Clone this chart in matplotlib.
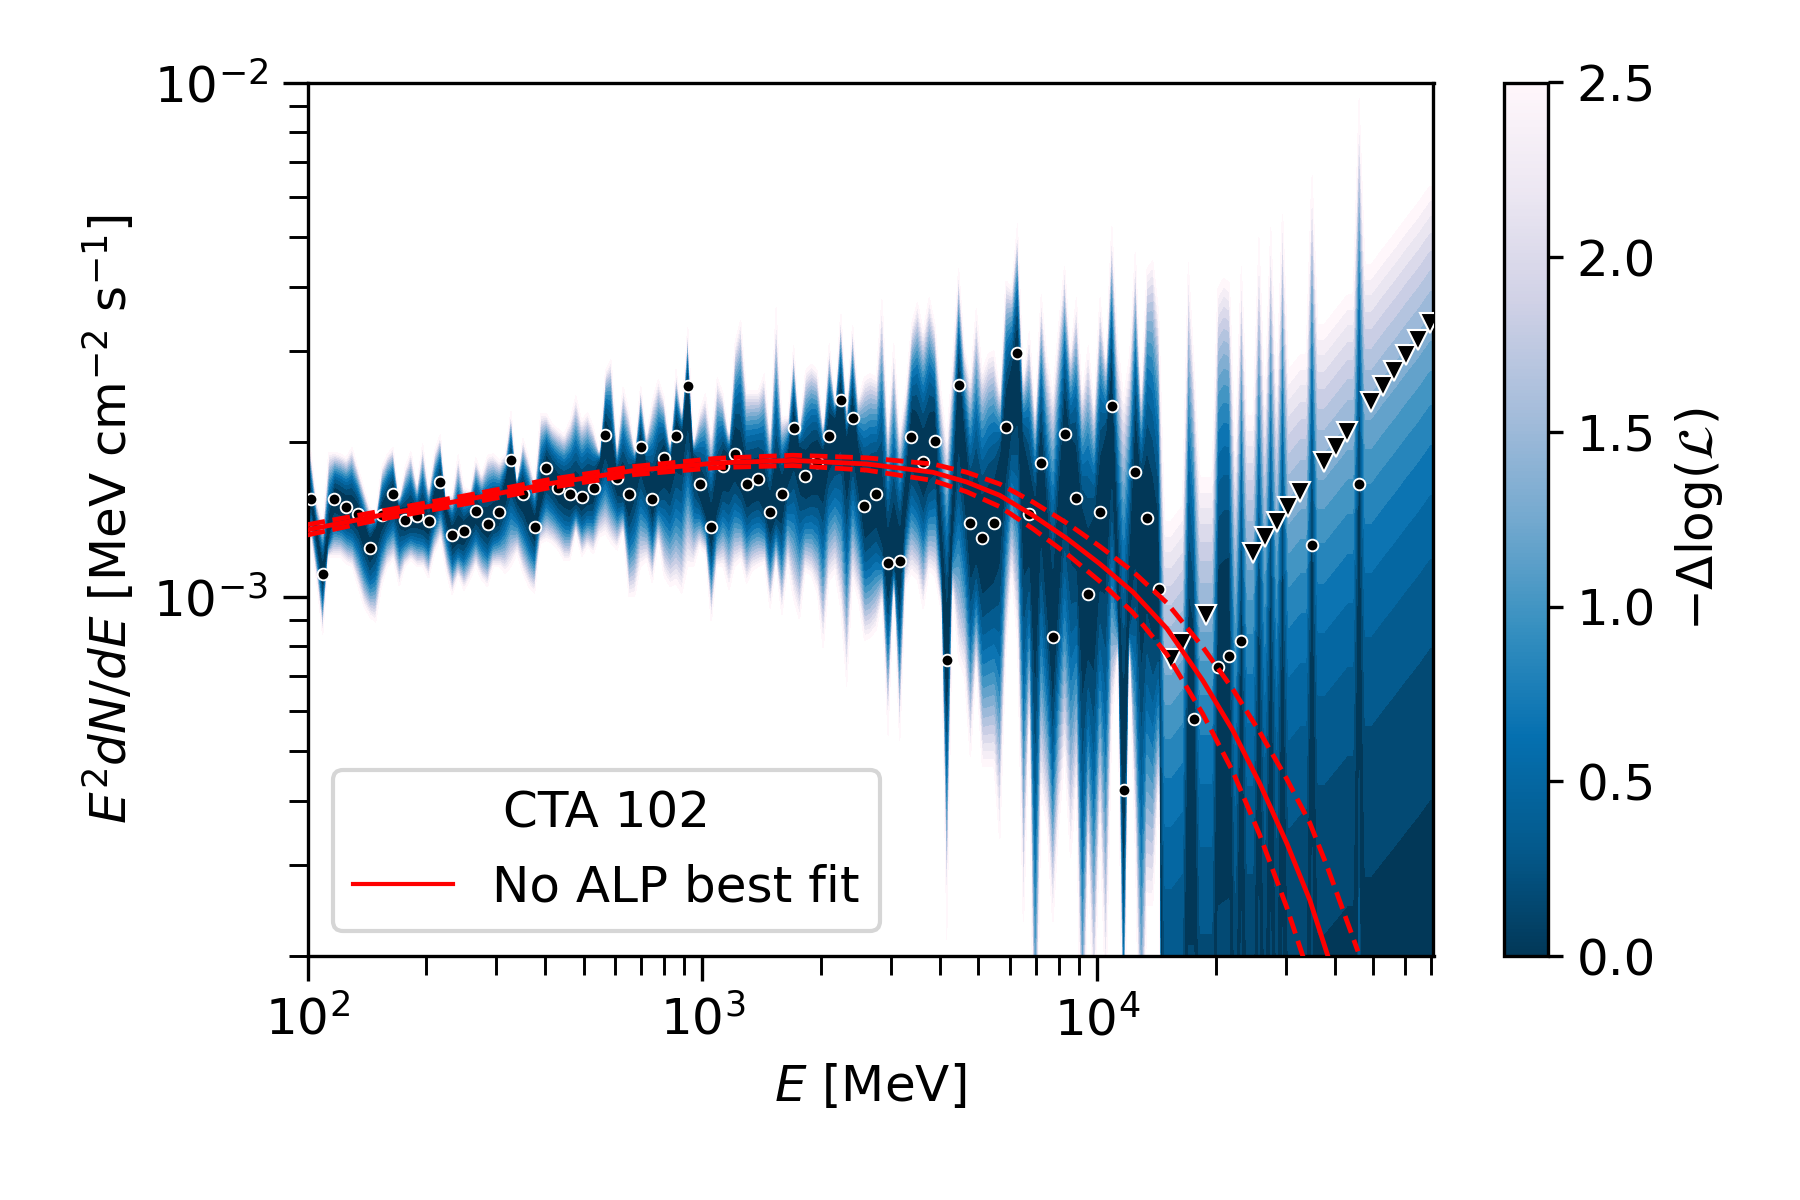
import numpy as np
import matplotlib
matplotlib.use("Agg")
import matplotlib.pyplot as plt
from matplotlib.cm import ScalarMappable
from matplotlib.colors import Normalize
from matplotlib.lines import Line2D
from matplotlib.ticker import NullFormatter

plt.rcParams['font.size'] = 12

nan = np.nan

# Energy bin centres [MeV]
energy = [102.0, 109.3, 117.0, 125.3, 134.2, 143.8, 154.0, 164.9, 176.7, 189.2, 202.7, 217.1,
          232.5, 249.0, 266.7, 285.7, 306.0, 327.7, 351.0, 376.0, 402.7, 431.3, 462.0, 494.8,
          530.0, 567.7, 608.0, 651.2, 697.5, 747.1, 800.2, 857.1, 918.0, 983.3, 1053, 1128,
          1208, 1294, 1386, 1484, 1590, 1703, 1824, 1954, 2093, 2241, 2401, 2571, 2754, 2950,
          3159, 3384, 3625, 3882, 4158, 4454, 4770, 5110, 5473, 5862, 6278, 6725, 7203, 7715,
          8263, 8851, 9480, 10150, 10880, 11650, 12480, 13360, 14310, 15330, 16420, 17590,
          18840, 20180, 21610, 23150, 24790, 26560, 28440, 30470, 32630, 34950, 37430, 40100,
          42950, 46000, 49270, 52770, 56520, 60540, 64840, 69450]

# Flux points, in units of 1e-3 MeV cm-2 s-1
flux = [1.551, 1.105, 1.551, 1.494, 1.451, 1.246, 1.444, 1.586, 1.412, 1.435, 1.401, 1.674,
        1.315, 1.340, 1.470, 1.387, 1.459, 1.847, 1.586, 1.369, 1.782, 1.630, 1.581, 1.563,
        1.630, 2.066, 1.699, 1.586, 1.958, 1.551, 1.858, 2.057, 2.573, 1.659, 1.369, 1.793,
        1.892, 1.654, 1.694, 1.459, 1.581, 2.125, 1.714, 1.825, 2.057, 2.417, 2.229, 1.503,
        1.581, 1.165, 1.175, 2.047, 1.825, 2.011, 0.752, 2.584, 1.393, 1.303, 1.393, 2.142,
        2.980, 1.451, 1.823, 0.833, 2.075, 1.558, 1.014, 1.459, 2.352, 0.420, 1.751, 1.425,
        1.037, 0.756, 0.812, 0.578, 0.920, 0.729, 0.766, 0.819, 1.214, 1.305, 1.395, 1.492,
        1.596, 1.259, 1.825, 1.952, 2.087, 1.654, 2.388, 2.565, 2.743, 2.946, 3.151, 3.400]

# Which of the points are upper limits
limit_bins = [73, 74, 76, 80, 81, 82, 83, 84, 86, 87, 88, 90, 91, 92, 93, 94, 95]

# Upper / lower extent of the likelihood band, log10(flux / 1e-3), at bin centres
bin_top = [.284, .142, .281, .271, .252, .174, .252, .291, .252, .22,
           .213, .317, .2, .213, .271, .275, .265, .365, .31, .226,
           .356, .326, .343, .343, .33, .44, .297, .362, .414, .382,
           .388, .443, .527, .362, .317, .395, .492, .401, .401, .323,
           .349, .492, .44, .44, .495, .557, .534, .427, .427, .336,
           .323, .53, .518, .531, .31, .641, .427, .44, .479, .615,
           .727, .518, .592, .40, .647, .583, .489, .586, .727, .388,
           .677, .638, .55, nan, nan, .45, nan, .60, .61, .65,
           nan, nan, nan, nan, nan, .83, nan, nan, nan, .97,
           nan, nan, nan, nan, nan, nan]
bin_bot = [.109, -.079, .077, .064, .019, -.04, .019, .07, .058, .058,
           .035, .109, .002, .012, .058, .019, .058, .058, .045, .006,
           .109, .09, .07, .077, .083, .122, .09, 0, .058, .025,
           .038, .025, .058, .096, -.053, .058, .058, .025, .058, -.027,
           -.04, -.007, .05, .006, .03, -.026, .03, -.085, -.065, -.273,
           -.292, .045, -.026, .038, -.668, -.124, -.318, -.331, -.331, -.124,
           -.091, -.253, -.383, -.642, -.318, -.383, -.512, -.448, -.253, -1.1,
           -.5, -.6, -.38, -2, -2, -2, -2, -2, -2, -2,
           -2, -2, -2, -2, -2, -2, -2, -2, -2, -2,
           -2, -2, -2, -2, -2, -2]

# Same, half way between neighbouring bins
edge_top = [.187, .281, .278, .291, .213, .161, .278, .194, .284, .30,
            .284, .194, .278, .207, .239, .278, .278, .232, .271, .356,
            .336, .317, .391, .359, .284, .463, .411, .291, .317, .424,
            .297, .362, .304, .395, .427, .317, .54, .401, .434, .563,
            .35, .336, .453, .336, .388, .375, .388, .434, .586, .498,
            .40, .573, .583, .40, .466, .485, .563, .472, .40, .602,
            .427, .369, .466, .531, .479, .40, .375, .466, .498, .466,
            .40, .654, nan, nan, .65, nan, nan, .62, nan, nan,
            .70, .725, .757, nan, nan, nan, nan, nan, nan, nan,
            nan, nan, nan, nan, nan]
edge_bot = [.025, .077, .077, .058, -.02, -.05, .058, .019, .07, .058,
            .083, .045, .038, .032, .032, .058, .045, .083, .019, .103,
            .103, .07, .122, .096, .116, .103, .122, 0, .07, .103,
            .019, .006, .058, .083, .058, .012, .07, .051, .064, .058,
            .058, -.046, .04, -.104, .045, -.175, -.007, -.08, -.013, .006,
            .019, .032, .05, -.026, .006, -.156, -.143, -.331, -.48, .04,
            -.655, -1.2, -.448, -.448, -.512, -1.1, -.85, -.8, -.124, -.124,
            -1.1, -.6, -2, -2, -2, -2, -2, -2, -2, -2,
            -2, -2, -2, -2, -2, -2, -2, -2, -2, -2,
            -2, -2, -2, -2, -2]

# Best fit curve: log10(E/MeV), log10(flux / 1e-3), half width of the dashed band
fit_log_e = [2.0, 2.183, 2.404, 2.614, 2.824, 3.036, 3.229, 3.416, 3.583, 3.669, 3.753, 3.837,
             3.923, 4.006, 4.09, 4.176, 4.267, 4.343, 4.411, 4.48, 4.538, 4.583, 4.66]
fit_log_f = [.130, .158, .189, .22, .245, .26, .265, .258, .242, .223, .197, .158,
             .113, .064, .009, -.062, -.163, -.26, -.363, -.48, -.59, -.697, -.89]
fit_width = [.010, .008, .008, .008, .008, .009, .010, .012, .016, .019, .022, .026,
             .030, .034, .04, .05, .065, .08, .10, .125, .15, .17, .20]

XLIM = (100, 71000)
YLIM = (2e-4, 1e-2)
VMAX = 2.5
N_BANDS = 16
UL_TO_TOP = 1.85
GAP_TOP = .29          # pale column between bins 78 and 79
cmap = plt.get_cmap('PuBu_r')

E = np.array(energy, float)
F = np.array(flux, float)
is_ul = np.zeros(len(E), bool)
is_ul[limit_bins] = True
bin_c = np.log10(F)

n_nodes = 2 * len(E) - 1
node_x = np.empty(n_nodes)
node_x[0::2] = np.log10(E)
node_x[1::2] = 0.5 * (np.log10(E[:-1]) + np.log10(E[1:]))
node_top = np.empty(n_nodes)
node_top[0::2], node_top[1::2] = bin_top, edge_top
node_bot = np.empty(n_nodes)
node_bot[0::2], node_bot[1::2] = bin_bot, edge_bot
node_c = np.empty(n_nodes)
node_p = np.empty(n_nodes)
node_q = np.full(n_nodes, 2.0)

ul_top = np.log10(F * UL_TO_TOP)
for n in range(n_nodes):
    k = n // 2
    neigh = [k] if n % 2 == 0 else [k, k + 1]
    det = [j for j in neigh if not is_ul[j]]
    if np.isnan(node_top[n]):
        # limit-like column: likelihood rises linearly with the flux
        lims = [ul_top[j] for j in neigh if is_ul[j]]
        node_top[n] = np.mean(lims) if lims else GAP_TOP
        node_bot[n] = -3.0
        node_c[n] = -2.0
        node_p[n] = 1.0
    else:
        c = np.mean(bin_c[det]) if det else -0.1
        t, b = node_top[n], node_bot[n]
        span = t - b
        c = np.clip(c, b + 0.15 * span, t - 0.15 * span)
        node_c[n] = c
        node_p[n] = np.interp(t - c, [0.1, 0.3, 0.8], [1.9, 1.7, 1.3])

x_fine = np.linspace(np.log10(XLIM[0]), np.log10(XLIM[1]), 1801)
y_fine = np.linspace(np.log10(YLIM[0] * 1e3), np.log10(YLIM[1] * 1e3), 1001)
X, Y = np.meshgrid(x_fine, y_fine)
T = np.interp(x_fine, node_x, node_top)[None, :]
B = np.interp(x_fine, node_x, node_bot)[None, :]
C = np.interp(x_fine, node_x, node_c)[None, :]
P = np.interp(x_fine, node_x, node_p)[None, :]
Q = np.interp(x_fine, node_x, node_q)[None, :]
F_y = 10.0 ** Y
up = VMAX * (np.clip(F_y - 10.0 ** C, 0, None) / (10.0 ** T - 10.0 ** C)) ** P
dn = VMAX * (np.clip(C - Y, 0, None) / (C - B)) ** Q
Z = np.minimum(np.where(Y >= C, up, dn), 3.0)

fig = plt.figure(figsize=(6, 4), dpi=300)
ax = fig.add_axes([307.5 / 1800, 1 - 956 / 1200, (1433.5 - 307.5) / 1800, (956 - 82.5) / 1200])
cax = fig.add_axes([1503.5 / 1800, 1 - 956 / 1200, 44 / 1800, (956 - 82.5) / 1200])

levels = np.linspace(0, VMAX, N_BANDS + 1)
colors = [cmap(v) for v in np.linspace(0, 1, N_BANDS)]
ax.contourf(10.0 ** x_fine, 1e-3 * 10.0 ** y_fine, Z, levels=levels, colors=colors, zorder=1)

lim = is_ul
ax.plot(E[~lim], F[~lim] * 1e-3, ls='none', marker='o', ms=2.8, mfc='k', mec='w', mew=0.45, zorder=3)
ax.plot(E[lim], F[lim] * 1e-3, ls='none', marker='v', ms=5.0, mfc='k', mec='w', mew=0.5, zorder=3)

fe = 10.0 ** np.array(fit_log_e)
fc = np.array(fit_log_f)
fw = np.array(fit_width)
ax.plot(fe, 1e-3 * 10 ** fc, color='red', lw=1.15, zorder=4)
ax.plot(fe, 1e-3 * 10 ** (fc + fw), color='red', lw=1.15, ls='--', zorder=4)
ax.plot(fe, 1e-3 * 10 ** (fc - fw), color='red', lw=1.15, ls='--', zorder=4)

ax.set_xscale('log')
ax.set_yscale('log')
ax.set_xlim(*XLIM)
ax.set_ylim(*YLIM)
ax.set_xlabel(r'$E$ [MeV]')
ax.set_ylabel(r'$E^2dN/dE$ [MeV cm$^{-2}$ s$^{-1}$]')
ax.yaxis.set_minor_formatter(NullFormatter())
ax.xaxis.set_minor_formatter(NullFormatter())
ax.tick_params(which='major', length=6, width=0.8)
ax.tick_params(which='minor', length=4.5, width=0.7)
handle = Line2D([], [], color='red', lw=1.0)
ax.legend([handle], ['No ALP best fit'], loc='lower left', title='CTA 102', fontsize=12, title_fontsize=12)

sm = ScalarMappable(norm=Normalize(0, VMAX), cmap=cmap)
cb = fig.colorbar(sm, cax=cax)
cb.set_ticks([0, 0.5, 1.0, 1.5, 2.0, 2.5])
cb.set_label(r'$-\Delta\log(\mathcal{L})$')

fig.savefig('out.png', dpi=300)
